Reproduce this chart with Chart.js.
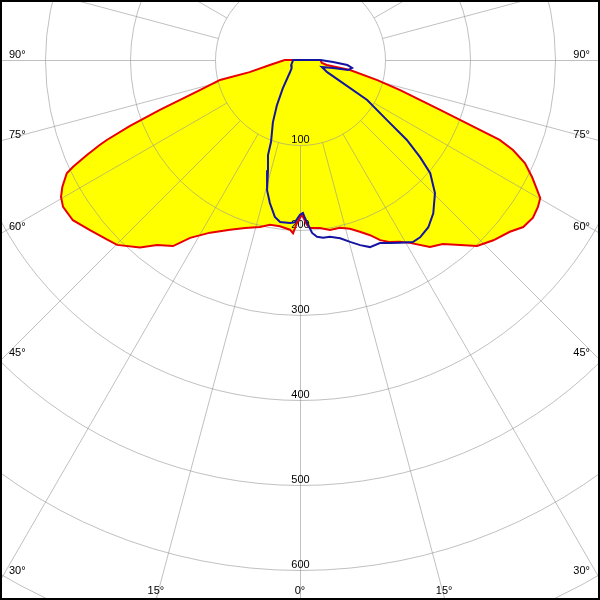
<!DOCTYPE html>
<html>
<head>
<meta charset="utf-8">
<script src="https://cdn.jsdelivr.net/npm/chart.js@4/dist/chart.umd.min.js"></script>
<style>
html,body{margin:0;padding:0;background:#fff;}
#wrap{width:600px;height:600px;}
</style>
</head>
<body>
<div id="wrap"><canvas id="c" width="600" height="600"></canvas></div>
<script>
// ---- data (gamma in degrees from nadir, intensity in cd) ----
const gammaC0 = [-95,-90,-80.5,-76.5,-76,-73.3,-70.4,-68.8,-67.5,-67,-66,-64.8,-64.1,-61.9,-60.2,-58.2,-54.8,-51,-47,-44.7,-40.5,-37.7,-34.3,-31.7,-27.5,-22.4,-18.1,-13.5,-10.3,-6.9,-3.4,-2.3,-1.1,0.7,2.4,3.4,6.8,10,13.4,16.5,19.2,21.8,24,26.3,28.8,31,34.8,37.8,40.9,43.6,47,50.7,53.2,55.9,58.3,60.1,61.3,63.2,65.4,67.1,68.2,69.1,70.4,73.3,75.4,78.7,79.5,82.2,90,95];
const intensityC0 = [0,18,36,61,97,123,175,215,246,256,274,295,305,317,324,328,327,318,310,306,290,275,265,246,229,216,208,202,197,197,200,204,192,182,194,198,199,203,203,207,214,222,232,239,244,251,268,274,288,302,311,319,328,331,329,326,318,306,291,272,253,214,175,123,94,60,32,26,24,0];

const gammaC90 = [-95,-90,-60,-45,-39.8,-31.3,-27,-23.5,-19.5,-18.6,-16.2,-14.2,-11.9,-9.1,-7,-3.5,-1.8,0,1.1,1.8,2.8,4,5.5,7.4,9.6,12.7,15.4,18,20.5,23.6,26.2,28.7,31.8,34.1,37.5,41,45.4,49,51,53.2,55.4,59.2,66,72.3,76.4,78.2,81.3,83.9,86.5,90,95];
const intensityC90 = [0,8,12,14,18,39,60,80,102,118,135,158,172,187,192,192,191,182,180,186,194,204,209,211,211,215,222,229,235,235,240,245,252,252,248,239,223,203,182,157,124,92,35,27,40,58,62,56,39,24,0];

const ringValues = [100,200,300,400,500,600,700];
const ringLabels = ['100','200','300','400','500','600'];
const sideAngles = [90,75,60,45,30];
const sideAngleLabels = ['90°','75°','60°','45°','30°'];
const bottomAngles = [-15,0,15];
const bottomAngleLabels = ['15°','0°','15°'];

// ---- view geometry ----
const PX_PER_CD = 0.85;
const CENTER_X = 300, CENTER_Y = 60, W = 600, H = 600;

function toPoints(gammas, values) {
  return gammas.map((g, i) => {
    const a = g * Math.PI / 180;
    return { x: values[i] * Math.sin(a), y: -values[i] * Math.cos(a) };
  });
}

const FONT = '11px "Liberation Sans", Arial, sans-serif';

const polarPlugin = {
  id: 'polarGrid',
  beforeDatasetsDraw(chart) {
    const ctx = chart.ctx;
    const xs = chart.scales.x, ys = chart.scales.y;
    const cx = xs.getPixelForValue(0), cy = ys.getPixelForValue(0);
    const k = (xs.getPixelForValue(100) - cx) / 100;

    // yellow fill of C0-C180 curve
    const meta = chart.getDatasetMeta(0);
    ctx.save();
    ctx.beginPath();
    meta.data.forEach((p, i) => { if (i === 0) ctx.moveTo(p.x, p.y); else ctx.lineTo(p.x, p.y); });
    ctx.closePath();
    ctx.fillStyle = '#ffff00';
    ctx.fill();
    ctx.restore();

    // grid
    ctx.save();
    ctx.strokeStyle = 'rgba(150,150,150,0.6)';
    ctx.lineWidth = 1;
    ringValues.forEach(r => {
      ctx.beginPath();
      ctx.arc(cx + 0.5, cy + 0.5, r * k, 0, Math.PI * 2);
      ctx.stroke();
    });
    for (let a = 0; a < 360; a += 15) {
      const rad = a * Math.PI / 180;
      const r0 = ringValues[0] * k, r1 = 1000 * k;
      ctx.beginPath();
      ctx.moveTo(cx + 0.5 + r0 * Math.sin(rad), cy + 0.5 + r0 * Math.cos(rad));
      ctx.lineTo(cx + 0.5 + r1 * Math.sin(rad), cy + 0.5 + r1 * Math.cos(rad));
      ctx.stroke();
    }
    ctx.restore();

    // labels
    ctx.save();
    ctx.font = FONT;
    ctx.fillStyle = '#000';
    ctx.textBaseline = 'alphabetic';
    ctx.textAlign = 'center';
    ringLabels.forEach((t, i) => {
      const yy = ys.getPixelForValue(-ringValues[i]);
      ctx.fillText(t, cx + 0.5, yy - 2);
    });
    sideAngles.forEach((g, i) => {
      const rad = g * Math.PI / 180;
      const yEdge = cy + (cx - 2) / Math.tan(rad);
      const base = Math.min(yEdge - 2, chart.chartArea.bottom - 22);
      ctx.textAlign = 'left';
      ctx.fillText(sideAngleLabels[i], 9, base);
      ctx.textAlign = 'right';
      ctx.fillText(sideAngleLabels[i], chart.chartArea.right - 10, base);
    });
    ctx.textAlign = 'center';
    bottomAngles.forEach((g, i) => {
      const rad = g * Math.PI / 180;
      const xEdge = cx + (chart.chartArea.bottom - 2 - cy) * Math.tan(rad);
      ctx.fillText(bottomAngleLabels[i], xEdge, chart.chartArea.bottom - 6);
    });
    ctx.restore();
  },
  afterDraw(chart) {
    const ctx = chart.ctx;
    ctx.save();
    ctx.fillStyle = '#000';
    ctx.fillRect(0, 0, W, 2);
    ctx.fillRect(0, 0, 2, H);
    ctx.fillRect(W - 2, 0, 2, H);
    ctx.fillRect(0, H - 2, W, 2);
    ctx.restore();
  }
};

new Chart(document.getElementById('c'), {
  type: 'scatter',
  data: {
    datasets: [
      {
        label: 'C0-C180',
        data: toPoints(gammaC0, intensityC0),
        showLine: true,
        borderColor: '#e80000',
        borderWidth: 2,
        pointRadius: 0,
        fill: false,
        order: 1
      },
      {
        label: 'C90-C270',
        data: toPoints(gammaC90, intensityC90),
        showLine: true,
        borderColor: '#1414a0',
        borderWidth: 2,
        pointRadius: 0,
        fill: false,
        order: 0
      }
    ]
  },
  options: {
    responsive: false,
    animation: false,
    layout: { padding: 0 },
    plugins: { legend: { display: false }, tooltip: { enabled: false } },
    elements: { line: { tension: 0 }, point: { radius: 0 } },
    scales: {
      x: { type: 'linear', display: false, min: -CENTER_X / PX_PER_CD, max: (W - CENTER_X) / PX_PER_CD },
      y: { type: 'linear', display: false, min: -(H - CENTER_Y) / PX_PER_CD, max: CENTER_Y / PX_PER_CD }
    }
  },
  plugins: [polarPlugin]
});
</script>
</body>
</html>
